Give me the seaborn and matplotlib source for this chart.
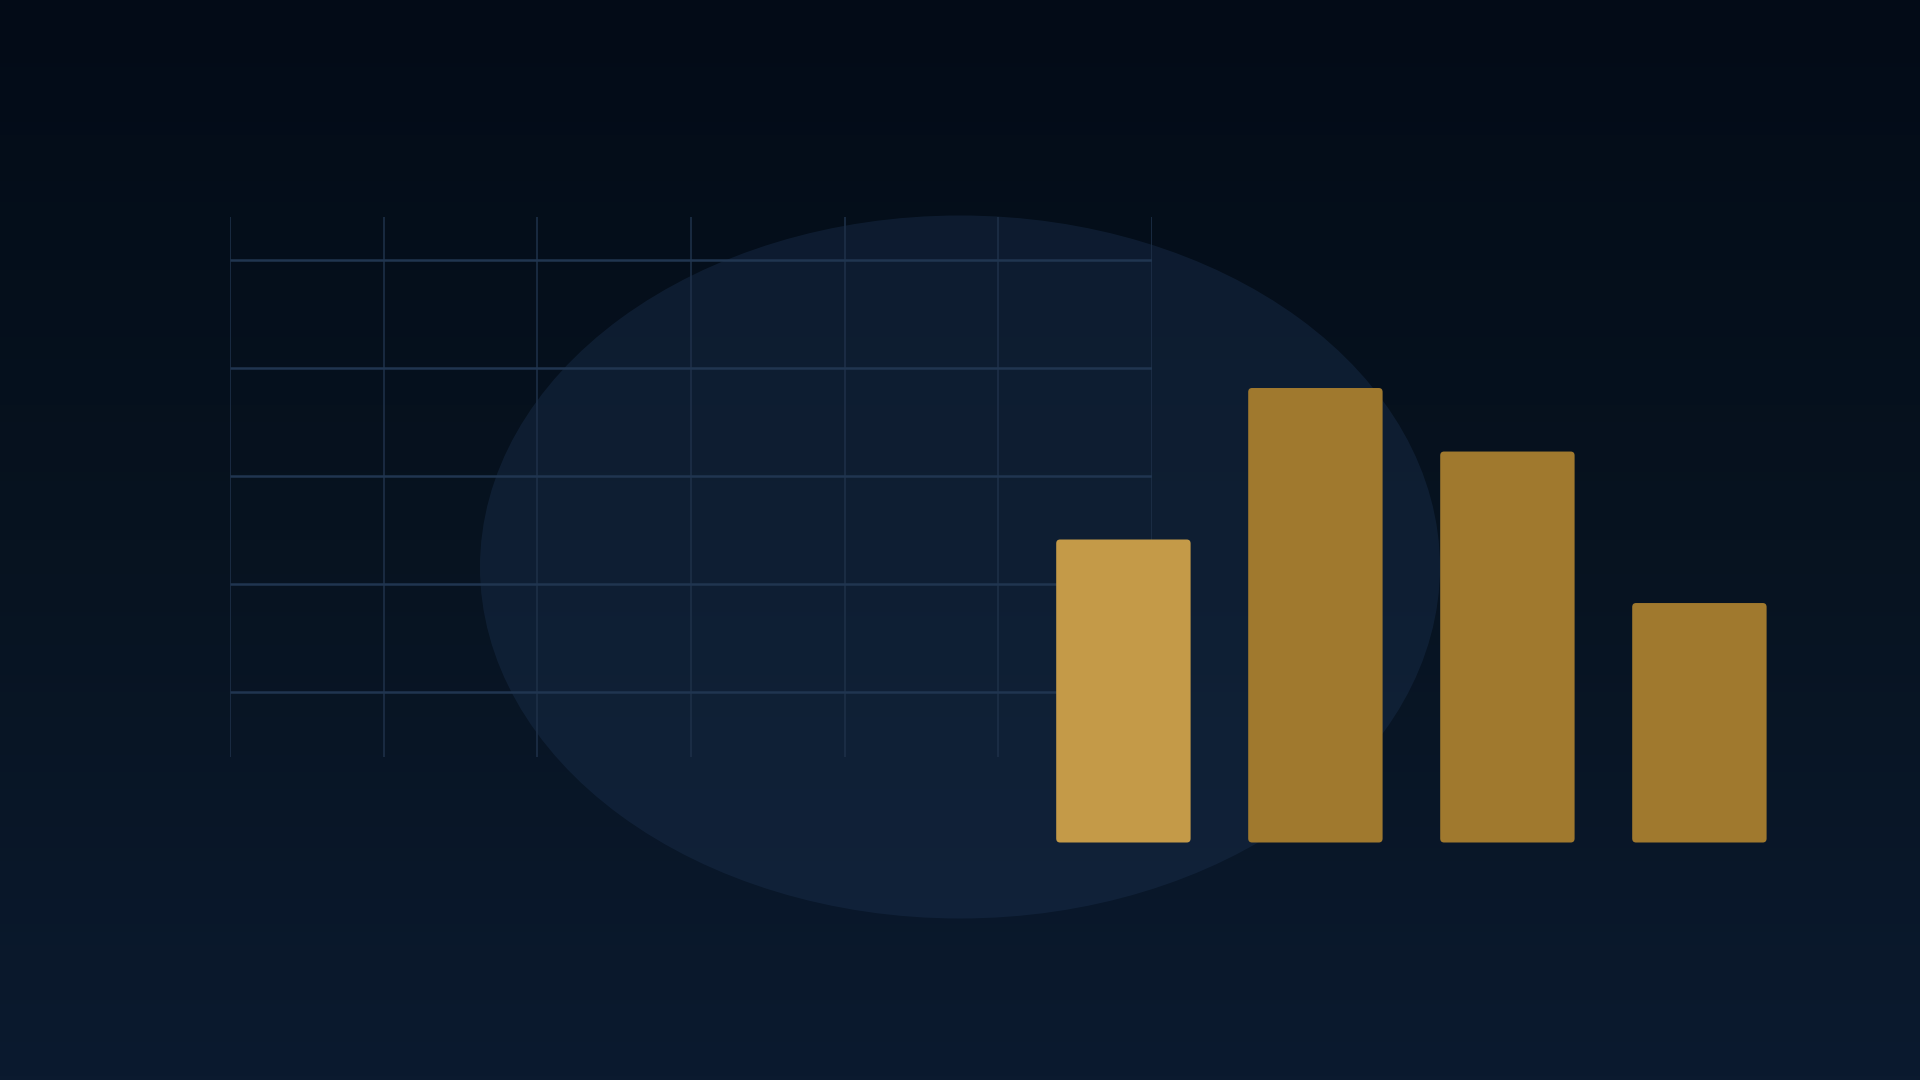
import numpy as np
import pandas as pd
import matplotlib
matplotlib.use("Agg")
import matplotlib.pyplot as plt
import seaborn as sns
from matplotlib.patches import Ellipse, FancyBboxPatch

# bar data
categories = ["A", "B", "C", "D"]
values = [62, 93, 80, 49]
bar_colors = ["#c49a48", "#a0792e", "#a0792e", "#a0792e"]

# decorative grid behind the bars
grid_cols = 6
grid_rows = [0.6, 1.6, 2.6, 3.6, 4.6]

W, H = 1920, 1080


def px_rect(x0, y0, x1, y1):
    """Pixel box (top-left origin) -> figure fraction rect."""
    return [x0 / W, 1 - y1 / H, (x1 - x0) / W, (y1 - y0) / H]


def main():
    sns.set_theme(style="white")
    fig = plt.figure(figsize=(19.2, 10.8), dpi=100)

    # background gradient
    bg = fig.add_axes([0, 0, 1, 1])
    grad = np.linspace(0, 1, 256).reshape(-1, 1)
    cmap = matplotlib.colors.LinearSegmentedColormap.from_list(
        "bg", ["#030b17", "#071320", "#0b1a2f"])
    bg.imshow(grad, aspect="auto", cmap=cmap, extent=[0, W, H, 0])
    bg.set_xlim(0, W)
    bg.set_ylim(H, 0)
    bg.axis("off")

    # soft ellipse glow
    bg.add_patch(Ellipse((960, 567), 960, 703, facecolor="#1b3150",
                         alpha=0.4, edgecolor="none", zorder=2))

    # grid
    gax = fig.add_axes(px_rect(230, 216.7, 1152, 756.7))
    gax.set_xlim(0, grid_cols)
    gax.set_ylim(0, 5)
    gax.vlines(range(grid_cols + 1), 0, 5, color="#1d2f47", lw=1.2)
    gax.hlines(grid_rows, 0, grid_cols, color="#203550", lw=1.8)
    gax.patch.set_alpha(0)
    gax.axis("off")

    # bars
    bax = fig.add_axes(px_rect(1027.4, 842.5 - 488.7, 1795.4, 842.5))
    df = pd.DataFrame({"cat": categories, "val": values})
    sns.barplot(data=df, x="cat", y="val", hue="cat", palette=bar_colors,
                width=0.7, legend=False, ax=bax, saturation=1)
    bax.set_xlim(-0.5, 3.5)
    bax.set_ylim(0, 100)
    for p in list(bax.patches):
        x, y = p.get_x(), p.get_y()
        w, h = p.get_width(), p.get_height()
        fc = p.get_facecolor()
        p.remove()
        bax.add_patch(FancyBboxPatch(
            (x, y), w, h, boxstyle="round,pad=0,rounding_size=0.02",
            mutation_aspect=41, facecolor=fc, edgecolor="none"))
    bax.patch.set_alpha(0)
    bax.axis("off")

    fig.savefig("out.png", dpi=100)
    plt.close(fig)


if __name__ == "__main__":
    main()
